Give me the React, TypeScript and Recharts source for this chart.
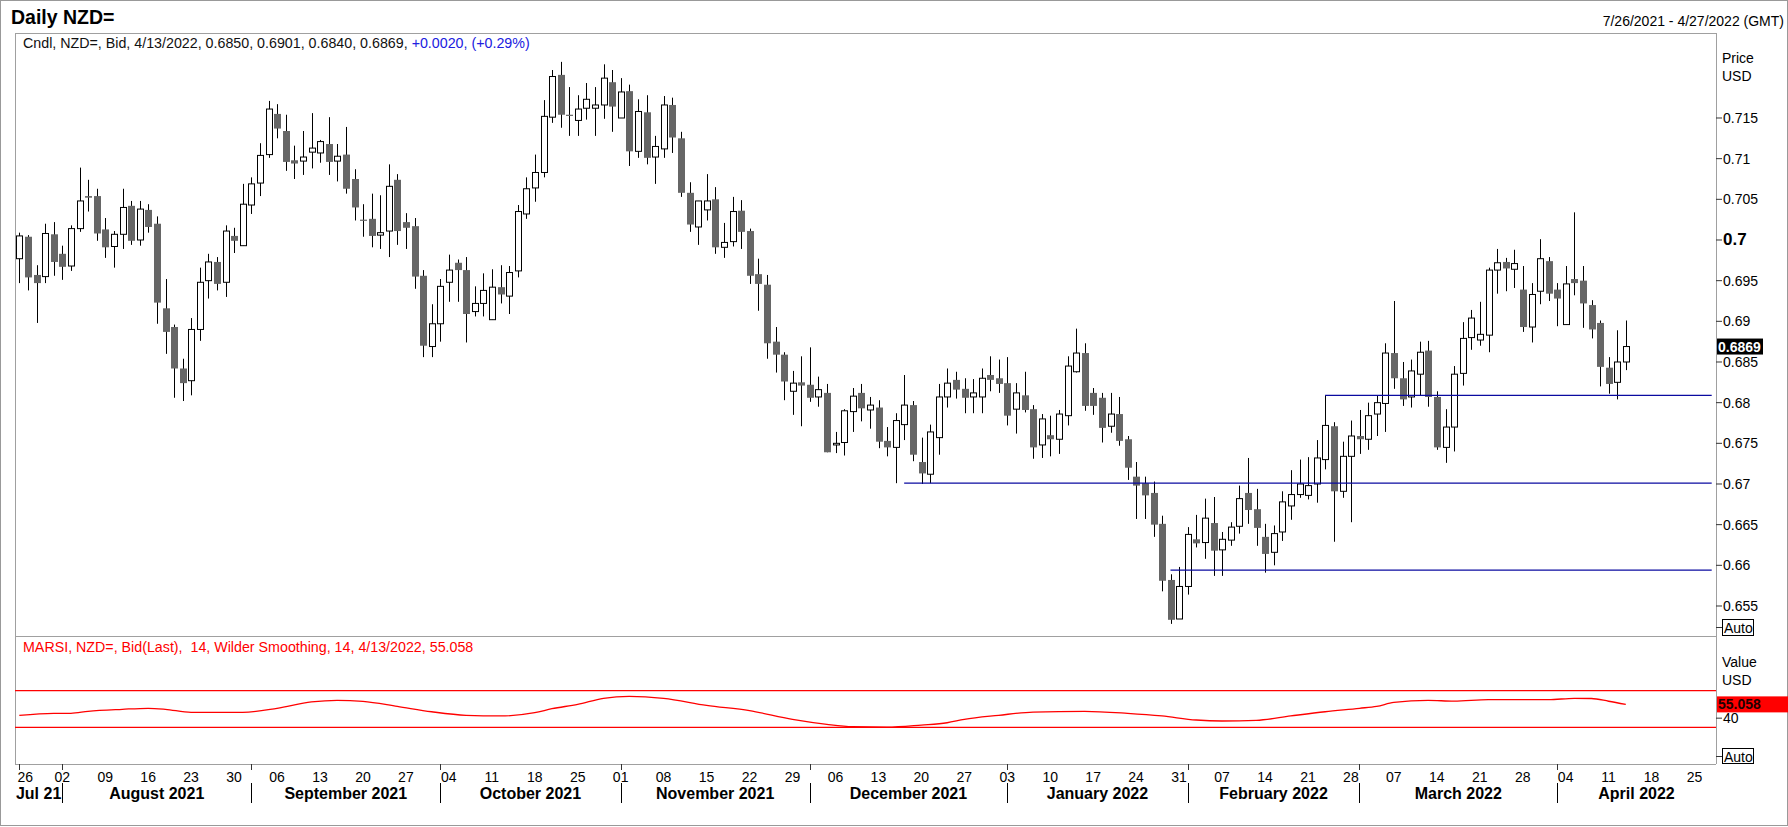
import React from "react";
import { ComposedChart, Bar, Line, XAxis, YAxis, ReferenceLine } from "recharts";

const FONT = "'Liberation Sans', Arial, sans-serif";
const W = 1788;
const H = 827;
const PLOT_LEFT = 15;
const PLOT_RIGHT = 1716;
const PRICE_TOP = 33;
const PRICE_BOTTOM = 636;
const RSI_BOTTOM = 764;

// weekday slots, 26 Jul 2021 .. 27 Apr 2022
const days: string[] = [];
for (let t = Date.UTC(2021, 6, 26); t <= Date.UTC(2022, 3, 27); t += 86400000) {
  const wd = new Date(t).getUTCDay();
  if (wd !== 0 && wd !== 6) days.push(new Date(t).toISOString().slice(0, 10));
}
const SLOT = (PLOT_RIGHT - PLOT_LEFT) / days.length;

const weekTicks = days.filter((d) => new Date(d + "T00:00:00Z").getUTCDay() === 1);
const monthStarts = days.filter((d, i) => i === 0 || d.slice(5, 7) !== days[i - 1].slice(5, 7));
const monthLabels = [
  "Jul 21", "August 2021", "September 2021", "October 2021", "November 2021",
  "December 2021", "January 2022", "February 2022", "March 2022", "April 2022",
];

const open = [
  0.6977, 0.7004, 0.6957, 0.6955, 0.7007, 0.6983, 0.6968, 0.7014, 0.7054, 0.7054,
  0.7013, 0.6992, 0.7007, 0.7042, 0.7000, 0.7037, 0.7020, 0.6916, 0.6893, 0.6842,
  0.6827, 0.6890, 0.6950, 0.6973, 0.6948, 0.7005, 0.6993, 0.7043, 0.7070, 0.7105,
  0.7155, 0.7134, 0.7098, 0.7097, 0.7108, 0.7107, 0.7118, 0.7097, 0.7105, 0.7075,
  0.7025, 0.7026, 0.7006, 0.7011, 0.7074, 0.7022, 0.7017, 0.6956, 0.6869, 0.6897,
  0.6948, 0.6972, 0.6963, 0.6912, 0.6922, 0.6902, 0.6942, 0.6931, 0.6962, 0.7032,
  0.7064, 0.7083, 0.7151, 0.7203, 0.7154, 0.7147, 0.7162, 0.7162, 0.7166, 0.7194,
  0.7150, 0.7183, 0.7109, 0.7157, 0.7102, 0.7112, 0.7166, 0.7125, 0.7058, 0.7016,
  0.7037, 0.7050, 0.6991, 0.6998, 0.7036, 0.7011, 0.6958, 0.6945, 0.6875, 0.6859,
  0.6814, 0.6825, 0.6822, 0.6807, 0.6812, 0.6748, 0.6751, 0.6789, 0.6812, 0.6791,
  0.6794, 0.6753, 0.6745, 0.6773, 0.6797, 0.6727, 0.6712, 0.6757, 0.6807, 0.6828,
  0.6817, 0.6807, 0.6807, 0.6834, 0.6830, 0.6824, 0.6792, 0.6809, 0.6792, 0.6748,
  0.6760, 0.6755, 0.6784, 0.6838, 0.6861, 0.6812, 0.6806, 0.6771, 0.6786, 0.6755,
  0.6709, 0.6701, 0.6689, 0.6651, 0.6582, 0.6534, 0.6574, 0.6632, 0.6628, 0.6652,
  0.6619, 0.6631, 0.6648, 0.6689, 0.6669, 0.6635, 0.6616, 0.6641, 0.6673, 0.6687,
  0.6686, 0.6700, 0.6730, 0.6771, 0.6691, 0.6734, 0.6759, 0.6755, 0.6786, 0.6799,
  0.6861, 0.6830, 0.6807, 0.6835, 0.6864, 0.6807, 0.6745, 0.6770, 0.6836, 0.6880,
  0.6877, 0.6883, 0.6963, 0.6973, 0.6964, 0.6939, 0.6893, 0.6937, 0.6974, 0.6939,
  0.6896, 0.6952, 0.6950, 0.6920, 0.6898, 0.6843, 0.6825, 0.6850,
];
const high = [
  0.7009, 0.7006, 0.6969, 0.7020, 0.7022, 0.6993, 0.7018, 0.7089, 0.7074, 0.7063,
  0.7027, 0.7011, 0.7063, 0.7048, 0.7048, 0.7044, 0.7029, 0.6952, 0.6896, 0.6854,
  0.6904, 0.6966, 0.6983, 0.6979, 0.7018, 0.7015, 0.7069, 0.7077, 0.7119, 0.7171,
  0.7167, 0.7154, 0.7116, 0.7134, 0.7156, 0.7123, 0.7151, 0.7118, 0.7139, 0.7087,
  0.7044, 0.7057, 0.7055, 0.7093, 0.7081, 0.7033, 0.7027, 0.6963, 0.6921, 0.6952,
  0.6982, 0.6976, 0.6979, 0.6943, 0.6959, 0.6964, 0.6969, 0.6968, 0.7043, 0.7077,
  0.7105, 0.7172, 0.7209, 0.7219, 0.7188, 0.7178, 0.7193, 0.7188, 0.7216, 0.7209,
  0.7199, 0.7191, 0.7173, 0.7178, 0.7128, 0.7177, 0.7175, 0.7133, 0.7071, 0.7048,
  0.7081, 0.7065, 0.7021, 0.7053, 0.7049, 0.7014, 0.6977, 0.6957, 0.6893, 0.6862,
  0.6839, 0.6857, 0.6868, 0.6832, 0.6823, 0.6764, 0.6792, 0.6818, 0.6823, 0.6807,
  0.6803, 0.6770, 0.6787, 0.6834, 0.6802, 0.6757, 0.6773, 0.6823, 0.6842, 0.6838,
  0.6830, 0.6829, 0.6842, 0.6857, 0.6853, 0.6856, 0.6824, 0.6838, 0.6797, 0.6786,
  0.6784, 0.6791, 0.6857, 0.6891, 0.6873, 0.6818, 0.6812, 0.6812, 0.6807, 0.6759,
  0.6727, 0.6709, 0.6703, 0.6661, 0.6589, 0.6598, 0.6647, 0.6662, 0.6682, 0.6684,
  0.6641, 0.6653, 0.6698, 0.6732, 0.6694, 0.6651, 0.6649, 0.6691, 0.6717, 0.6730,
  0.6733, 0.6754, 0.6809, 0.6776, 0.6752, 0.6778, 0.6791, 0.6800, 0.6809, 0.6873,
  0.6925, 0.6850, 0.6853, 0.6875, 0.6876, 0.6814, 0.6792, 0.6845, 0.6899, 0.6914,
  0.6924, 0.6966, 0.6989, 0.6978, 0.6988, 0.6968, 0.6947, 0.7001, 0.6979, 0.6947,
  0.6968, 0.7034, 0.6968, 0.6926, 0.6901, 0.6856, 0.6889, 0.6901,
];
const low = [
  0.6947, 0.6938, 0.6898, 0.6947, 0.6956, 0.6951, 0.6962, 0.7010, 0.7035, 0.6999,
  0.6978, 0.6966, 0.6989, 0.6994, 0.6993, 0.7009, 0.6897, 0.6860, 0.6806, 0.6802,
  0.6809, 0.6876, 0.6928, 0.6938, 0.6930, 0.6984, 0.6993, 0.7032, 0.7054, 0.7101,
  0.7125, 0.7085, 0.7075, 0.7080, 0.7088, 0.7095, 0.7080, 0.7072, 0.7057, 0.7024,
  0.7004, 0.6991, 0.6989, 0.6979, 0.6994, 0.6989, 0.6940, 0.6856, 0.6856, 0.6875,
  0.6924, 0.6924, 0.6874, 0.6906, 0.6906, 0.6902, 0.6922, 0.6909, 0.6954, 0.7026,
  0.7047, 0.7077, 0.7144, 0.7138, 0.7128, 0.7128, 0.7148, 0.7128, 0.7149, 0.7133,
  0.7150, 0.7091, 0.7101, 0.7093, 0.7069, 0.7101, 0.7107, 0.7053, 0.7010, 0.6994,
  0.7024, 0.6983, 0.6978, 0.6992, 0.6989, 0.6946, 0.6913, 0.6854, 0.6837, 0.6803,
  0.6785, 0.6771, 0.6801, 0.6795, 0.6739, 0.6738, 0.6735, 0.6764, 0.6777, 0.6768,
  0.6744, 0.6734, 0.6701, 0.6754, 0.6728, 0.6700, 0.6701, 0.6736, 0.6794, 0.6805,
  0.6787, 0.6787, 0.6787, 0.6814, 0.6812, 0.6772, 0.6762, 0.6788, 0.6731, 0.6732,
  0.6734, 0.6737, 0.6772, 0.6837, 0.6790, 0.6785, 0.6751, 0.6763, 0.6747, 0.6705,
  0.6657, 0.6657, 0.6635, 0.6568, 0.6528, 0.6534, 0.6564, 0.6622, 0.6608, 0.6587,
  0.6587, 0.6624, 0.6639, 0.6651, 0.6624, 0.6591, 0.6600, 0.6630, 0.6656, 0.6683,
  0.6681, 0.6677, 0.6718, 0.6629, 0.6683, 0.6653, 0.6737, 0.6742, 0.6759, 0.6764,
  0.6817, 0.6796, 0.6794, 0.6809, 0.6795, 0.6742, 0.6726, 0.6740, 0.6821, 0.6865,
  0.6870, 0.6862, 0.6934, 0.6937, 0.6941, 0.6887, 0.6874, 0.6921, 0.6925, 0.6894,
  0.6896, 0.6932, 0.6892, 0.6879, 0.6820, 0.6811, 0.6804, 0.6840,
];
const close = [
  0.7005, 0.6954, 0.6947, 0.7008, 0.6973, 0.6967, 0.7014, 0.7048, 0.7052, 0.7008,
  0.6991, 0.7007, 0.7040, 0.6999, 0.7038, 0.7016, 0.6923, 0.6887, 0.6842, 0.6824,
  0.6890, 0.6948, 0.6973, 0.6946, 0.7011, 0.6999, 0.7044, 0.7069, 0.7104, 0.7161,
  0.7137, 0.7096, 0.7094, 0.7102, 0.7113, 0.7121, 0.7096, 0.7103, 0.7063, 0.7040,
  0.7024, 0.7005, 0.7009, 0.7066, 0.7011, 0.7015, 0.6955, 0.6870, 0.6897, 0.6943,
  0.6963, 0.6963, 0.6909, 0.6922, 0.6938, 0.6942, 0.6933, 0.6960, 0.7035, 0.7063,
  0.7083, 0.7152, 0.7201, 0.7154, 0.7153, 0.7161, 0.7173, 0.7166, 0.7199, 0.7164,
  0.7182, 0.7109, 0.7158, 0.7101, 0.7115, 0.7166, 0.7126, 0.7058, 0.7019, 0.7048,
  0.7048, 0.6991, 0.6997, 0.7035, 0.7010, 0.6956, 0.6946, 0.6873, 0.6859, 0.6826,
  0.6824, 0.6821, 0.6806, 0.6816, 0.6739, 0.6750, 0.6790, 0.6808, 0.6793, 0.6797,
  0.6752, 0.6745, 0.6778, 0.6797, 0.6736, 0.6713, 0.6764, 0.6807, 0.6824, 0.6816,
  0.6806, 0.6812, 0.6830, 0.6828, 0.6823, 0.6784, 0.6812, 0.6791, 0.6745, 0.6780,
  0.6755, 0.6786, 0.6845, 0.6861, 0.6796, 0.6796, 0.6769, 0.6786, 0.6753, 0.6720,
  0.6698, 0.6686, 0.6650, 0.6581, 0.6533, 0.6574, 0.6638, 0.6627, 0.6658, 0.6618,
  0.6632, 0.6647, 0.6682, 0.6668, 0.6646, 0.6614, 0.6639, 0.6678, 0.6687, 0.6700,
  0.6698, 0.6732, 0.6772, 0.6691, 0.6734, 0.6759, 0.6755, 0.6784, 0.6800, 0.6861,
  0.6830, 0.6804, 0.6839, 0.6862, 0.6807, 0.6745, 0.6770, 0.6835, 0.6879, 0.6904,
  0.6884, 0.6963, 0.6972, 0.6965, 0.6971, 0.6893, 0.6933, 0.6977, 0.6934, 0.6928,
  0.6946, 0.6947, 0.6922, 0.6890, 0.6844, 0.6823, 0.6850, 0.6869,
];

// smoothed RSI read at these slots
const rsiSlot = [
  0, 4, 6, 8, 12, 15, 17, 20, 26, 30, 34, 37, 40, 44, 48, 52, 56, 60, 62, 65,
  68, 71, 75, 80, 85, 90, 94, 97, 101, 105, 108, 110, 114, 118, 124, 129, 133, 137, 140, 144,
  148, 152, 156, 158, 160, 164, 167, 171, 178, 181, 183, 185, 187,
];
const rsiValue = [
  43.1, 45.3, 45.3, 47.5, 49.7, 50.8, 49.7, 46.4, 46.4, 50.8, 57.7, 59.5, 58.4, 52.9, 47.0, 43.1, 42.4, 46.0, 50.3, 55.1,
  61.7, 63.9, 61.7, 54.0, 48.2, 38.7, 33.3, 30.7, 30.2, 32.5, 35.0, 38.7, 43.1, 46.7, 47.5, 45.3, 42.4, 38.0, 36.9, 37.6,
  42.4, 47.0, 50.8, 52.9, 57.2, 59.5, 58.6, 60.2, 60.2, 61.7, 61.5, 58.5, 55.058,
];

const priceTicks = [0.655, 0.66, 0.665, 0.67, 0.675, 0.68, 0.685, 0.69, 0.695, 0.7, 0.705, 0.71, 0.715];
const supportSlots = [152, 103, 134];
const supportLevels = [0.6809, 0.6701, 0.6594];

const rows = days.map((d, i) => ({
  d,
  o: open[i],
  h: high[i],
  l: low[i],
  c: close[i],
  range: i < open.length ? [low[i], high[i]] : null,
  rsi: null as number | null,
}));
rsiSlot.forEach((s, k) => {
  rows[s].rsi = rsiValue[k];
});

const lastClose = close[close.length - 1];
const lastRsi = rsiValue[rsiValue.length - 1];

const Candle = (props: any) => {
  const { x, y, width, height, payload } = props;
  if (!payload || payload.o == null) return null;
  const { o, h, l, c } = payload;
  const top = Math.min(y, y + height);
  const span = Math.abs(height);
  const ppu = h - l > 0 ? span / (h - l) : 0;
  const cx = Math.round(x + width / 2) + 0.5;
  const yO = top + (h - o) * ppu;
  const yC = top + (h - c) * ppu;
  const bTop = Math.min(yO, yC);
  const bH = Math.max(Math.abs(yO - yC), 1.2);
  const up = c >= o;
  const bx = cx - 3.5;
  return (
    <g>
      <line x1={cx} x2={cx} y1={top} y2={top + span} stroke="#000" strokeWidth={1} />
      {up ? (
        <rect x={bx + 0.5} y={bTop} width={6} height={bH} fill="#fff" stroke="#000" strokeWidth={1} />
      ) : (
        <rect x={bx} y={bTop} width={7} height={bH} fill="#666666" />
      )}
    </g>
  );
};

const PriceTick = (p: any) => {
  const v = p.payload.value;
  const bold = Math.abs(v - 0.7) < 1e-9;
  return (
    <g>
      <line x1={PLOT_RIGHT} x2={PLOT_RIGHT + 6} y1={p.y} y2={p.y} stroke="#333" />
      <text
        x={PLOT_RIGHT + 7}
        y={p.y}
        dominantBaseline="central"
        fontFamily={FONT}
        fontSize={bold ? 17 : 14}
        fontWeight={bold ? "bold" : "normal"}
        fill="#000"
      >
        {String(+v.toFixed(3))}
      </text>
    </g>
  );
};

const RsiTick = (p: any) => (
  <g>
    <line x1={PLOT_RIGHT} x2={PLOT_RIGHT + 6} y1={p.y} y2={p.y} stroke="#333" />
    <text x={PLOT_RIGHT + 7} y={p.y} dominantBaseline="central" fontFamily={FONT} fontSize={14} fill="#000">
      {p.payload.value}
    </text>
  </g>
);

const ValueBox = (props: any) => {
  const { viewBox, text, bg, fg, w } = props;
  if (!viewBox) return null;
  const y = viewBox.y;
  return (
    <g>
      <rect x={PLOT_RIGHT + 1} y={y - 8} width={w} height={16} fill={bg} />
      <text x={PLOT_RIGHT + 2} y={y} dominantBaseline="central" fontFamily={FONT} fontSize={14} fontWeight="bold" fill={fg}>
        {text}
      </text>
    </g>
  );
};

// local y inside the RSI chart (its top sits at PRICE_BOTTOM)
const WeekTick = (p: any) => {
  const v: string = p.payload.value;
  const i = weekTicks.indexOf(v);
  return (
    <text
      x={p.x + (i === 0 ? 6 : 0)}
      y={141}
      textAnchor="middle"
      dominantBaseline="central"
      fontFamily={FONT}
      fontSize={14}
      fill="#000"
    >
      {v.slice(8, 10)}
    </text>
  );
};

const MonthTick = (p: any) => {
  const v: string = p.payload.value;
  const k = monthStarts.indexOf(v);
  if (k < 0) return null;
  const x = p.x;
  const s = days.indexOf(v);
  const left = k === 0 ? PLOT_LEFT : x;
  const right = k + 1 < monthStarts.length ? x + (days.indexOf(monthStarts[k + 1]) - s) * SLOT : PLOT_RIGHT;
  const lx = Math.round(x) + 0.5;
  return (
    <g>
      <line x1={lx} x2={lx} y1={128} y2={134} stroke="#333" />
      {k > 0 && <line x1={lx} x2={lx} y1={147} y2={167} stroke="#000" />}
      <text
        x={(left + right) / 2}
        y={157.5}
        textAnchor="middle"
        dominantBaseline="central"
        fontFamily={FONT}
        fontSize={16}
        fontWeight="bold"
        fill="#000"
      >
        {monthLabels[k]}
      </text>
    </g>
  );
};

const Decor = () => (
  <svg width={W} height={H} style={{ position: "absolute", left: 0, top: 0 }} fontFamily={FONT}>
    <rect x={0.5} y={0.5} width={W - 1} height={825} fill="#fff" stroke="#999" />
    <g stroke="#a0a0a0" strokeWidth={1}>
      <line x1={PLOT_LEFT} x2={PLOT_RIGHT} y1={PRICE_TOP + 0.5} y2={PRICE_TOP + 0.5} />
      <line x1={PLOT_LEFT + 0.5} x2={PLOT_LEFT + 0.5} y1={PRICE_TOP} y2={RSI_BOTTOM} />
      <line x1={PLOT_RIGHT + 0.5} x2={PLOT_RIGHT + 0.5} y1={PRICE_TOP} y2={RSI_BOTTOM} />
      <line x1={PLOT_LEFT} x2={PLOT_RIGHT} y1={PRICE_BOTTOM + 0.5} y2={PRICE_BOTTOM + 0.5} />
      <line x1={PLOT_LEFT} x2={PLOT_RIGHT} y1={RSI_BOTTOM + 0.5} y2={RSI_BOTTOM + 0.5} />
    </g>
    <text x={11} y={17} dominantBaseline="central" fontSize={19.5} fontWeight="bold" fill="#000">
      Daily NZD=
    </text>
    <text x={1784} y={21} textAnchor="end" dominantBaseline="central" fontSize={14} fill="#000">
      7/26/2021 - 4/27/2022 (GMT)
    </text>
    <text x={23} y={43} dominantBaseline="central" fontSize={14.25} fill="#111">
      Cndl, NZD=, Bid, 4/13/2022, 0.6850, 0.6901, 0.6840, {lastClose.toFixed(4)},{" "}
      <tspan fill="#2020e0">+0.0020, (+0.29%)</tspan>
    </text>
    <text x={1722} y={58} dominantBaseline="central" fontSize={14} fill="#000">Price</text>
    <text x={1722} y={76} dominantBaseline="central" fontSize={14} fill="#000">USD</text>
    <line x1={PLOT_RIGHT} x2={PLOT_RIGHT + 6} y1={627.5} y2={627.5} stroke="#333" />
    <rect x={1722.5} y={619.5} width={31} height={16} fill="#fff" stroke="#000" />
    <text x={1724} y={628} dominantBaseline="central" fontSize={14} fill="#000">Auto</text>
    <text x={23} y={647} dominantBaseline="central" fontSize={14.25} fill="#ff0000" xmlSpace="preserve">
      {`MARSI, NZD=, Bid(Last),  14, Wilder Smoothing, 14, 4/13/2022, ${lastRsi.toFixed(3)}`}
    </text>
    <text x={1722} y={662} dominantBaseline="central" fontSize={14} fill="#000">Value</text>
    <text x={1722} y={680} dominantBaseline="central" fontSize={14} fill="#000">USD</text>
    <line x1={PLOT_RIGHT} x2={PLOT_RIGHT + 6} y1={756.5} y2={756.5} stroke="#333" />
    <rect x={1722.5} y={748.5} width={31} height={15} fill="#fff" stroke="#000" />
    <text x={1724} y={756.5} dominantBaseline="central" fontSize={14} fill="#000">Auto</text>
  </svg>
);

export default function App() {
  return (
    <div style={{ position: "absolute", left: 0, top: 0, width: W, height: H, background: "#fff", overflow: "hidden" }}>
      <Decor />
      <div style={{ position: "absolute", left: 0, top: 0 }}>
        <ComposedChart
          width={W}
          height={PRICE_BOTTOM}
          data={rows}
          margin={{ top: PRICE_TOP, right: 0, bottom: 0, left: PLOT_LEFT }}
        >
          <XAxis dataKey="d" hide scale="band" />
          <YAxis
            orientation="right"
            width={W - PLOT_RIGHT}
            type="number"
            domain={[0.65131, 0.72545]}
            allowDataOverflow
            ticks={priceTicks}
            interval={0}
            tick={<PriceTick />}
            tickLine={false}
            axisLine={false}
          />
          {supportLevels.map((lv, k) => (
            <ReferenceLine
              key={k}
              segment={[
                { x: days[supportSlots[k]], y: lv },
                { x: days[days.length - 1], y: lv },
              ]}
              stroke="#0a0aa0"
              strokeWidth={1.2}
            />
          ))}
          <Bar dataKey="range" barSize={7} shape={<Candle />} isAnimationActive={false} />
          <ReferenceLine
            y={lastClose}
            stroke="none"
            label={<ValueBox text={lastClose.toFixed(4)} bg="#000" fg="#fff" w={46} />}
          />
        </ComposedChart>
      </div>
      <div style={{ position: "absolute", left: 0, top: PRICE_BOTTOM }}>
        <ComposedChart
          width={W}
          height={H - PRICE_BOTTOM}
          data={rows}
          margin={{ top: 0, right: 0, bottom: 0, left: PLOT_LEFT }}
        >
          <XAxis
            dataKey="d"
            scale="band"
            height={H - PRICE_BOTTOM - (RSI_BOTTOM - PRICE_BOTTOM) - 1}
            ticks={weekTicks}
            interval={0}
            tick={<WeekTick />}
            tickLine={false}
            axisLine={false}
          />
          <XAxis
            xAxisId="m"
            dataKey="d"
            scale="band"
            height={1}
            ticks={monthStarts}
            interval={0}
            tick={<MonthTick />}
            tickLine={false}
            axisLine={false}
          />
          <YAxis
            orientation="right"
            width={W - PLOT_RIGHT}
            type="number"
            domain={[-10.1, 129.8]}
            allowDataOverflow
            ticks={[40]}
            interval={0}
            tick={<RsiTick />}
            tickLine={false}
            axisLine={false}
          />
          <ReferenceLine y={70} stroke="#ff0000" strokeWidth={1.2} />
          <ReferenceLine y={30} stroke="#ff0000" strokeWidth={1.2} />
          <Line
            dataKey="rsi"
            type="monotone"
            stroke="#ff0000"
            strokeWidth={1.3}
            dot={false}
            connectNulls
            isAnimationActive={false}
          />
          <ReferenceLine
            y={lastRsi}
            stroke="none"
            label={<ValueBox text={lastRsi.toFixed(3)} bg="#ff0000" fg="#200000" w={W - PLOT_RIGHT - 1} />}
          />
        </ComposedChart>
      </div>
    </div>
  );
}
